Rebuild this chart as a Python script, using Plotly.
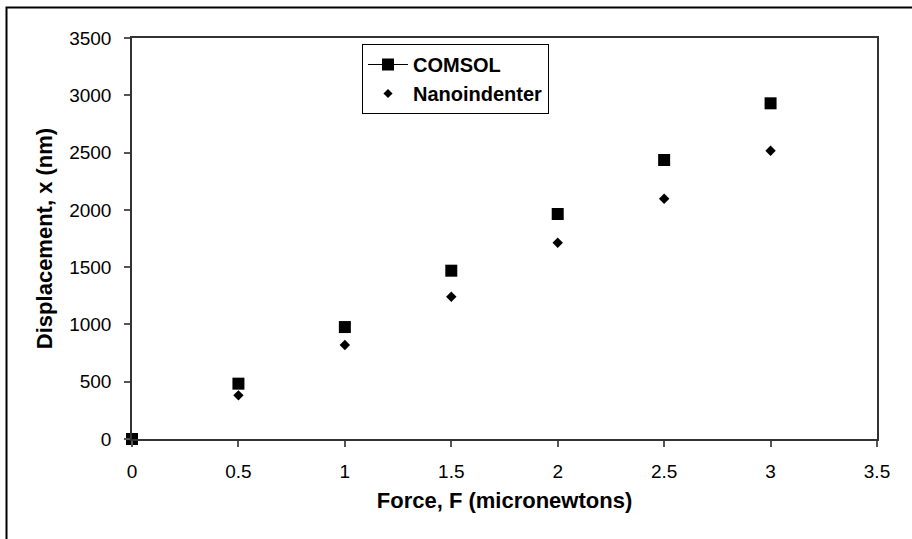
import plotly.graph_objects as go

# Applied force (micronewtons) and resulting displacement (nm)
force = [0, 0.5, 1, 1.5, 2, 2.5, 3]
comsol_disp = [0, 483, 977, 1469, 1964, 2435, 2930]
nano_disp = [0, 381, 820, 1242, 1713, 2097, 2516]

x_ticks = [0, 0.5, 1, 1.5, 2, 2.5, 3, 3.5]
y_ticks = [0, 500, 1000, 1500, 2000, 2500, 3000, 3500]

W, H = 912, 539
ML, MR, MT, MB = 132, 35, 38, 100
font_family = "Liberation Sans, Arial, sans-serif"

fig = go.Figure()

# Simulation results (squares) and measured data (diamonds)
fig.add_trace(go.Scatter(
    x=force, y=comsol_disp, mode="markers", name="COMSOL",
    marker=dict(symbol="square", size=12, color="black"),
    showlegend=False, cliponaxis=False,
))
fig.add_trace(go.Scatter(
    x=force, y=nano_disp, mode="markers", name="Nanoindenter",
    marker=dict(symbol="diamond", size=8, color="black"),
    showlegend=False, cliponaxis=False,
))

# Legend entries (COMSOL shown with a line through its marker)
fig.add_trace(go.Scatter(
    x=[None], y=[None], mode="lines+markers", name="COMSOL",
    line=dict(color="black", width=1),
    marker=dict(symbol="square", size=12, color="black"),
))
fig.add_trace(go.Scatter(
    x=[None], y=[None], mode="markers", name="Nanoindenter",
    marker=dict(symbol="diamond", size=7, color="black"),
))

pw = W - ML - MR
ph = H - MT - MB

# Outer chart border (runs off the right and bottom edges)
fig.add_shape(
    type="rect", xref="paper", yref="paper",
    x0=(6.5 - ML) / pw, x1=(W + 5 - ML) / pw,
    y0=-(H + 5 - MT - ph) / ph, y1=(H - MB - 7.5) / ph,
    line=dict(color="black", width=2), layer="below",
)

axis_common = dict(
    showgrid=False, zeroline=False, showline=True, mirror=True,
    linecolor="#333333", linewidth=1.5,
    ticks="outside", ticklen=6, tickcolor="#555555", tickwidth=1.5,
    tickfont=dict(family=font_family, size=19, color="black"),
)

fig.update_layout(
    width=W, height=H,
    margin=dict(l=ML, r=MR, t=MT, b=MB),
    paper_bgcolor="white", plot_bgcolor="white",
    xaxis=dict(
        range=[0, 3.5], tickvals=x_ticks,
        ticktext=[f"{v:g}" for v in x_ticks],
        ticklabelstandoff=8,
        title=dict(text="<b>Force, F (micronewtons)</b>",
                   font=dict(family=font_family, size=22, color="black"),
                   standoff=12),
        **axis_common,
    ),
    yaxis=dict(
        range=[0, 3500], tickvals=y_ticks,
        ticktext=[str(v) for v in y_ticks],
        ticklabelstandoff=9,
        title=dict(text="<b>Displacement, x (nm)</b>",
                   font=dict(family=font_family, size=22, color="black"),
                   standoff=10),
        **axis_common,
    ),
    legend=dict(
        x=(362 - ML) / pw, y=(H - MB - 44) / ph,
        xanchor="left", yanchor="top",
        bgcolor="white", bordercolor="black", borderwidth=1,
        font=dict(family=font_family, size=20, color="black", weight="bold"),
        itemwidth=40, tracegroupgap=0,
    ),
    showlegend=True,
)

fig.write_html("out.html")
